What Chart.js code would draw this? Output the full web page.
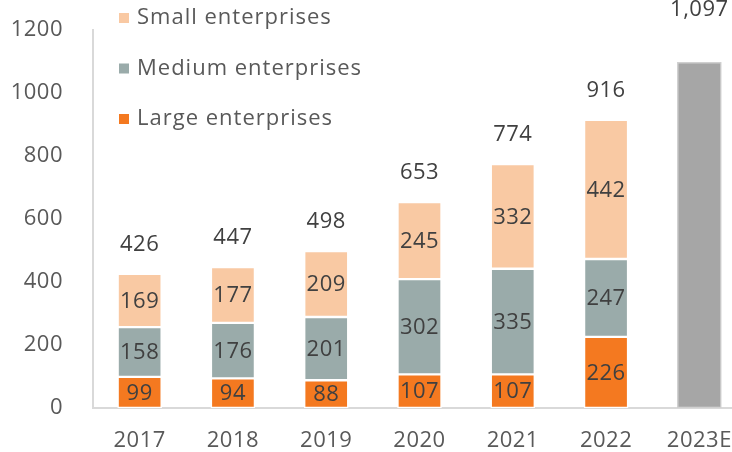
<!DOCTYPE html>
<html>
<head>
<meta charset="utf-8">
<script src="https://cdn.jsdelivr.net/npm/chart.js@4/dist/chart.umd.min.js"></script>
<style>
  html, body { margin: 0; padding: 0; background: #fff; overflow: hidden; }
  #wrap { width: 746px; height: 452px; position: relative; }
</style>
</head>
<body>
<div id="wrap"><canvas id="chart"></canvas></div>
<script>
// data
var years = ["2017", "2018", "2019", "2020", "2021", "2022", "2023E"];
var large = [99, 94, 88, 107, 107, 226, null];
var medium = [158, 176, 201, 302, 335, 247, null];
var small = [169, 177, 209, 245, 332, 442, null];
var forecast = [null, null, null, null, null, null, 1097];
var totals = [426, 447, 498, 653, 774, 916, 1097];
var yTicks = [0, 200, 400, 600, 800, 1000, 1200];

Chart.defaults.font.family = "'Open Sans', sans-serif";
Chart.defaults.font.size = 22;
Chart.defaults.color = "#595959";

var FONT = "22px 'Open Sans', sans-serif";

// labels inside segments + totals on top + legend
var labelPlugin = {
  id: "labels",
  beforeDraw: function (chart) {
    chart.ctx.letterSpacing = "0.5px";
  },
  afterDatasetsDraw: function (chart) {
    var ctx = chart.ctx;
    ctx.save();
    ctx.font = FONT;
    ctx.letterSpacing = "0.5px";
    ctx.fillStyle = "#404040";
    ctx.textAlign = "center";
    ctx.textBaseline = "middle";
    for (var i = 0; i < 3; i++) {
      var meta = chart.getDatasetMeta(i);
      meta.data.forEach(function (bar, j) {
        var v = chart.data.datasets[i].data[j];
        if (v == null) return;
        ctx.fillText(v, bar.x, (bar.y + bar.base) / 2 + 1);
      });
    }
    years.forEach(function (y, j) {
      var top = Infinity, x = 0, isFc = false;
      chart.data.datasets.forEach(function (ds, i) {
        if (ds.data[j] == null) return;
        var bar = chart.getDatasetMeta(i).data[j];
        if (bar.y < top) { top = bar.y; x = bar.x; }
        if (i == 3) isFc = true;
      });
      ctx.fillText(totals[j].toLocaleString("en-US"), x, top - (isFc ? 53 : 29));
    });
    ctx.restore();
  },
  afterDraw: function (chart) {
    var ctx = chart.ctx;
    ctx.save();
    ctx.font = FONT;
    ctx.letterSpacing = "1px";
    ctx.textAlign = "left";
    ctx.textBaseline = "middle";
    [2, 1, 0].forEach(function (i, k) {
      var ds = chart.data.datasets[i];
      var yy = 18 + k * 50.5;
      ctx.fillStyle = ds.backgroundColor;
      ctx.fillRect(119, yy - 5, 10, 10);
      ctx.fillStyle = "#595959";
      ctx.fillText(ds.label, 137, yy);
    });
    ctx.restore();
  },
};

var ctx = document.getElementById("chart").getContext("2d");
new Chart(ctx, {
  type: "bar",
  data: {
    labels: years,
    datasets: [
      { label: "Large enterprises", data: large, backgroundColor: "#F47920" },
      { label: "Medium enterprises", data: medium, backgroundColor: "#9AABAA" },
      { label: "Small enterprises", data: small, backgroundColor: "#F9C9A3" },
      { label: "2023E", data: forecast, backgroundColor: "#A6A6A6", borderColor: "#D0D0D0" },
    ],
  },
  options: {
    responsive: true,
    maintainAspectRatio: false,
    animation: false,
    layout: { padding: { top: 30, right: 0, left: 0, bottom: 0 } },
    datasets: {
      bar: {
        barThickness: 44,
        borderColor: "#ffffff",
        borderWidth: 1.5,
        borderSkipped: false,
      },
    },
    scales: {
      x: {
        stacked: true,
        grid: { display: false },
        border: { display: true, color: "#D9D9D9", width: 2 },
        ticks: { padding: 12, color: "#595959" },
        afterFit: function (s) { s.height = 44; s.paddingLeft = 0; s.paddingRight = 0; },
      },
      y: {
        stacked: true,
        min: 0,
        max: 1200,
        grid: { display: false },
        border: { display: true, color: "#D9D9D9", width: 2 },
        afterBuildTicks: function (s) {
          s.ticks = yTicks.map(function (v) { return { value: v }; });
        },
        ticks: {
          padding: 22,
          color: "#595959",
          callback: function (value) { return String(value); },
        },
        afterFit: function (s) { s.width = 93; s.paddingTop = 0; s.paddingBottom = 0; },
      },
    },
    plugins: {
      legend: { display: false },
      tooltip: { enabled: false },
    },
  },
  plugins: [labelPlugin],
});
</script>
</body>
</html>
